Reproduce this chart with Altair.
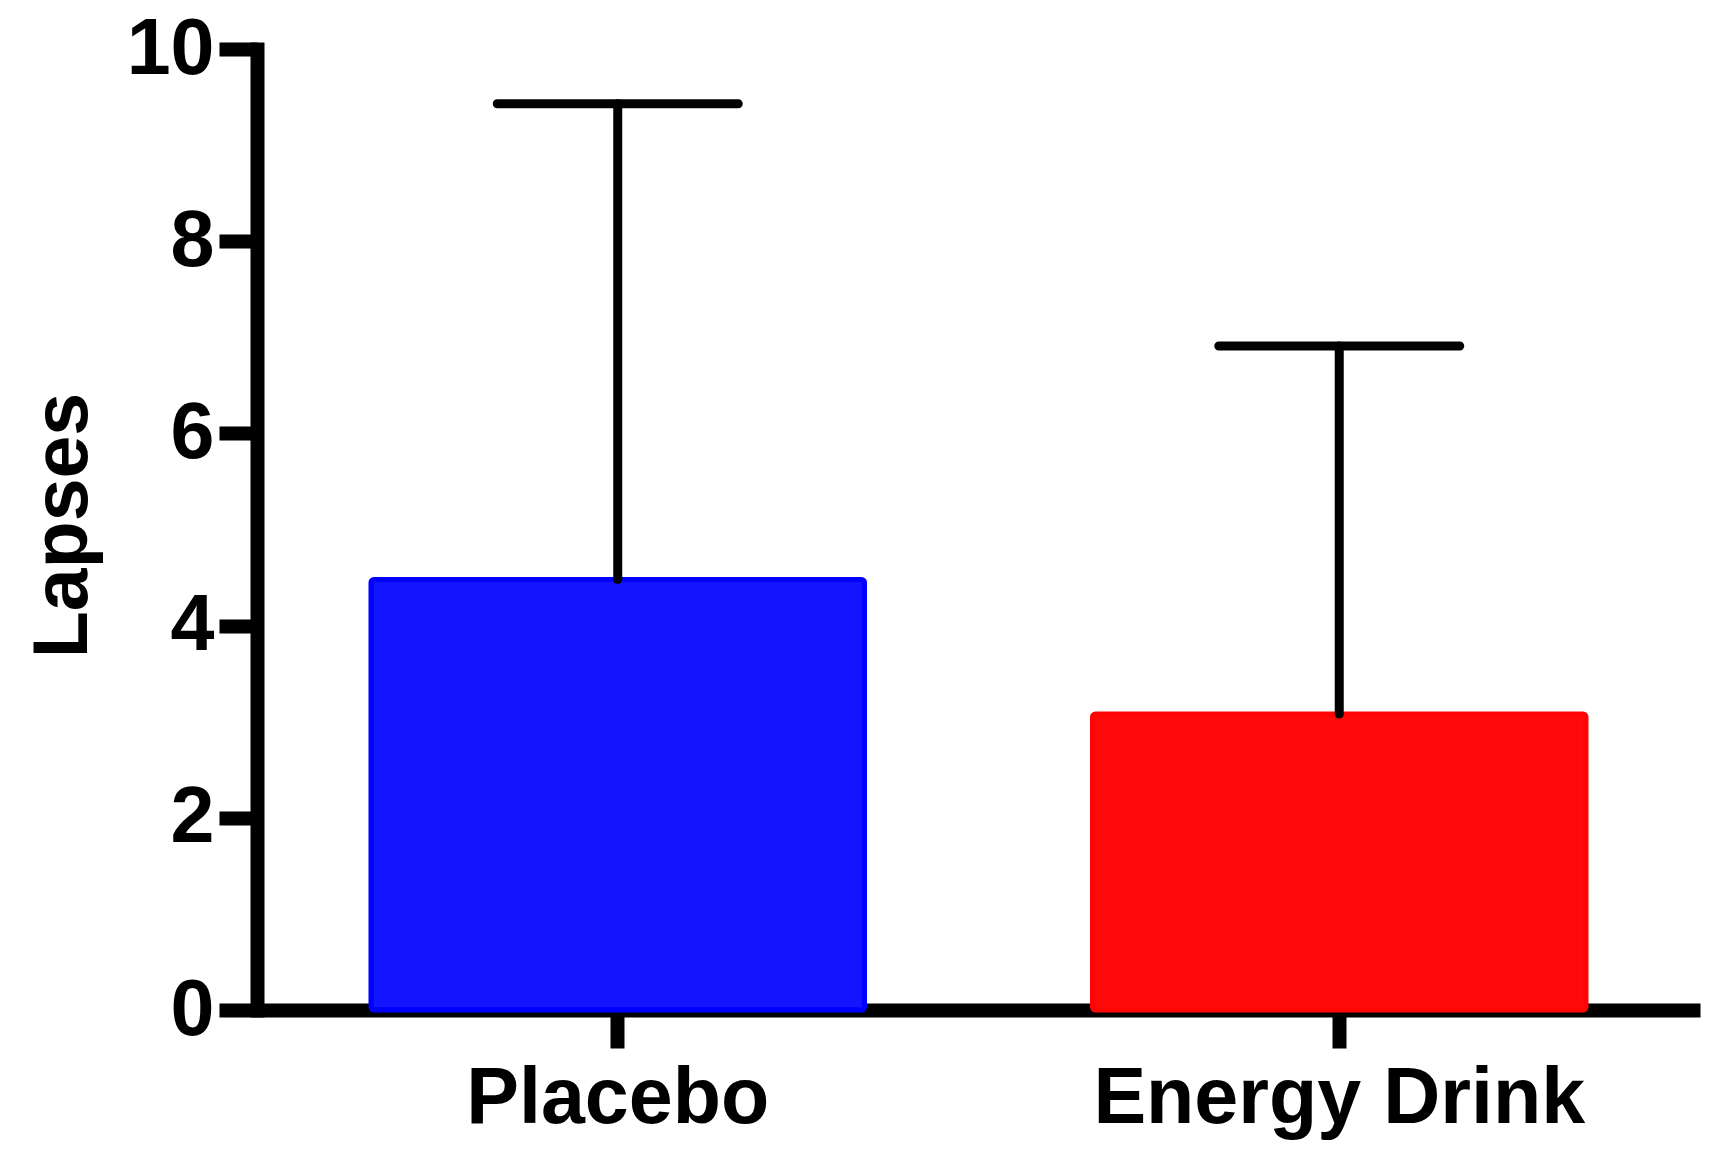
import altair as alt
import pandas as pd

groups = ["Placebo", "Energy Drink"]
means = [4.48, 3.08]
upper = [9.43, 6.91]
fills = ["#1414FF", "#FF0A0A"]
strokes = ["#0000FF", "#FF0404"]

df = pd.DataFrame({"group": groups, "mean": means, "upper": upper})

FONT = "Liberation Sans"

x_enc = alt.X(
    "group:N",
    sort=groups,
    scale=alt.Scale(paddingInner=0.316, paddingOuter=0.158),
    axis=alt.Axis(
        title="",
        labelAngle=0,
        labelLimit=0,
        labelFont=FONT,
        labelFontWeight="bold",
        labelFontSize=79,
        labelColor="black",
        labelPadding=12,
        tickSize=38,
        tickWidth=14,
        tickColor="black",
        domainWidth=14,
        domainColor="black",
        domainCap="butt",
    ),
)

y_enc = alt.Y(
    "mean:Q",
    scale=alt.Scale(domain=[0, 10], nice=False),
    axis=alt.Axis(
        title="Lapses",
        values=[0, 2, 4, 6, 8, 10],
        format="d",
        grid=False,
        labelFont=FONT,
        labelFontWeight="bold",
        labelFontSize=79,
        labelColor="black",
        labelPadding=5,
        labelLimit=0,
        tickSize=38,
        tickWidth=14,
        tickColor="black",
        domainWidth=14,
        domainColor="black",
        domainCap="square",
        titleFont=FONT,
        titleFontWeight="bold",
        titleFontSize=77,
        titleColor="black",
        titleAngle=-90,
        titleAlign="center",
        titleBaseline="alphabetic",
        titleX=-171,
        titleY=476,
    ),
)

bars = alt.Chart(df).mark_bar(cornerRadius=3, strokeWidth=5).encode(
    x=x_enc,
    y=y_enc,
    fill=alt.Fill("group:N", scale=alt.Scale(domain=groups, range=fills), legend=None),
    stroke=alt.Stroke("group:N", scale=alt.Scale(domain=groups, range=strokes), legend=None),
)

stems = alt.Chart(df).mark_rule(color="black", strokeWidth=9, strokeCap="round").encode(
    x=alt.X("group:N", sort=groups),
    y="mean:Q",
    y2="upper:Q",
)

caps = alt.Chart(df).mark_tick(
    color="black", opacity=1, orient="horizontal", size=250, thickness=9, cornerRadius=4.5
).encode(
    x=alt.X("group:N", sort=groups),
    y="upper:Q",
)

chart = alt.layer(bars, stems, caps).properties(
    width=1443,
    height=961,
    autosize=alt.AutoSizeParams(type="none"),
    padding={"left": 249, "top": 41, "right": 15, "bottom": 130},
    background="white",
).configure_view(stroke=None)

chart.save("out.html", embed_options={"renderer": "svg", "actions": False})
